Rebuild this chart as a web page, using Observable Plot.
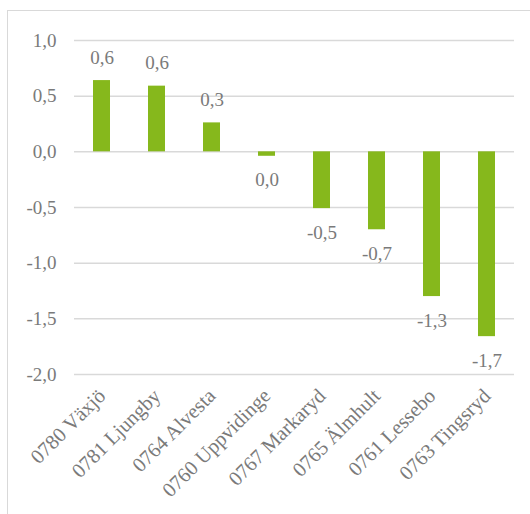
<!DOCTYPE html>
<html>
<head>
<meta charset="utf-8">
<script src="https://cdn.jsdelivr.net/npm/d3@7"></script>
<script src="https://cdn.jsdelivr.net/npm/@observablehq/plot@0.6"></script>
<style>
  html, body { margin: 0; padding: 0; background: #fff; }
  #frame { position: absolute; left: 7px; top: 10px; width: 600px; height: 600px; border: 1px solid #d9d9d9; box-sizing: border-box; }
  #chart { position: absolute; left: 0; top: 0; }
</style>
</head>
<body>
<div id="frame"></div>
<div id="chart"></div>
<script>
const categories = ["0780 Växjö", "0781 Ljungby", "0764 Alvesta", "0760 Uppvidinge", "0767 Markaryd", "0765 Älmhult", "0761 Lessebo", "0763 Tingsryd"];
const values = [0.64, 0.59, 0.26, -0.04, -0.51, -0.70, -1.30, -1.66];
const yTicks = [1.0, 0.5, 0.0, -0.5, -1.0, -1.5, -2.0];

const data = categories.map((c, i) => ({ category: c, value: values[i] }));
const fmt = v => { let s = v.toFixed(1).replace(".", ","); if (s === "-0,0") s = "0,0"; return s; };

const textColor = "#7a7a7a";
const ff = "Liberation Serif";
const fs = 19;

const chart = Plot.plot({
  width: 530,
  height: 514,
  marginLeft: 74,
  marginRight: 16,
  marginTop: 40,
  marginBottom: 140,
  style: { fontFamily: ff, fontSize: fs + "px", color: textColor, background: "transparent" },
  x: { domain: categories, paddingInner: 0.69, paddingOuter: 0.345, label: null },
  y: { domain: [-2, 1], label: null },
  marks: [
    Plot.ruleY(yTicks, { stroke: "#d9d9d9", strokeWidth: 1.5 }),
    Plot.barY(data, { x: "category", y: "value", fill: "#86b81c" }),
    Plot.text(data.filter(d => d.value >= 0), { x: "category", y: "value", text: d => fmt(d.value), dy: -23, fill: textColor, fontSize: fs, fontFamily: ff }),
    Plot.text(data.filter(d => d.value < 0), { x: "category", y: "value", text: d => fmt(d.value), dy: 24, fill: textColor, fontSize: fs, fontFamily: ff }),
    Plot.axisY({ ticks: yTicks, tickFormat: d => d.toFixed(1).replace(".", ","), tickSize: 0, tickPadding: 18, fontSize: fs, fontFamily: ff, label: null }),
    Plot.axisX({ tickSize: 0, tickPadding: 18, dx: 0, tickRotate: -45, fontSize: 20.5, fontFamily: ff, label: null })
  ]
});
document.getElementById("chart").appendChild(chart);
</script>
</body>
</html>
